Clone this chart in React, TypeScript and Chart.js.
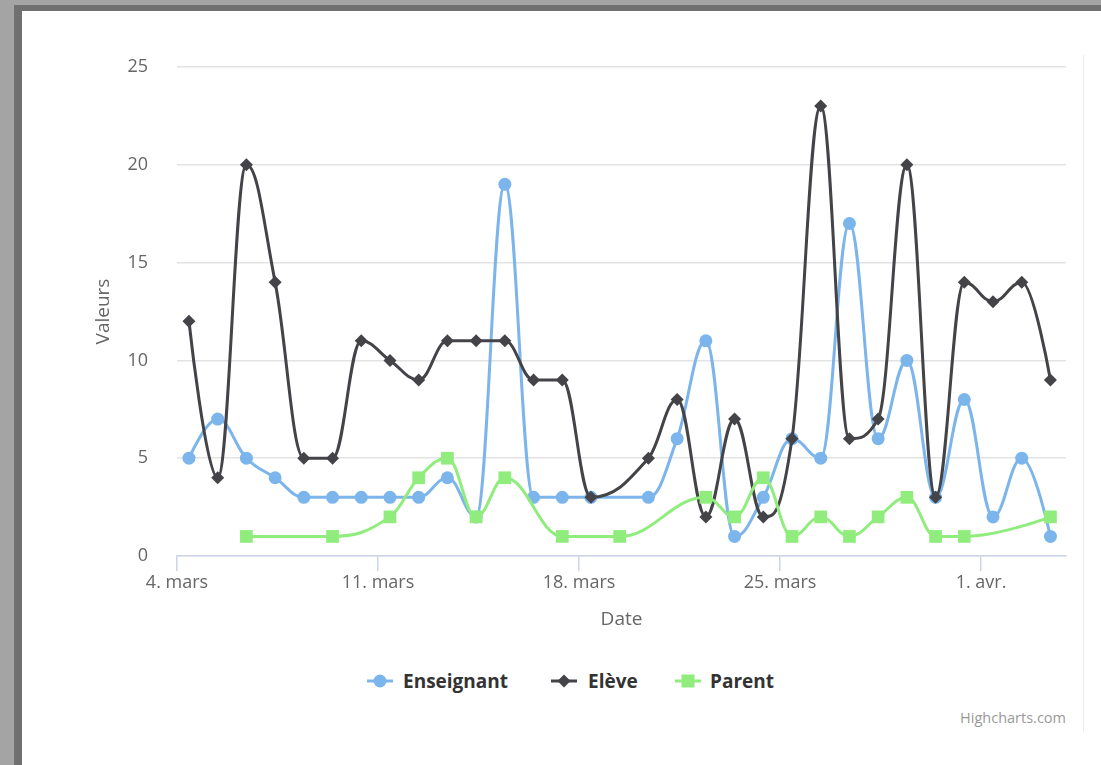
import React, { useEffect, useRef } from 'react';
import { Chart, registerables } from 'chart.js';

Chart.register(...registerables);

// ---------- data ----------
const dates = [
  '2019-03-04', '2019-03-05', '2019-03-06', '2019-03-07', '2019-03-08', '2019-03-09', '2019-03-10',
  '2019-03-11', '2019-03-12', '2019-03-13', '2019-03-14', '2019-03-15', '2019-03-16', '2019-03-17',
  '2019-03-18', '2019-03-19', '2019-03-20', '2019-03-21', '2019-03-22', '2019-03-23', '2019-03-24',
  '2019-03-25', '2019-03-26', '2019-03-27', '2019-03-28', '2019-03-29', '2019-03-30', '2019-03-31',
  '2019-04-01', '2019-04-02', '2019-04-03',
];
const enseignant = [5, 7, 5, 4, 3, 3, 3, 3, 3, 4, 2, 19, 3, 3, 3, null, 3, 6, 11, 1, 3, 6, 5, 17, 6, 10, 3, 8, 2, 5, 1];
const eleve = [12, 4, 20, 14, 5, 5, 11, 10, 9, 11, 11, 11, 9, 9, 3, null, 5, 8, 2, 7, 2, 6, 23, 6, 7, 20, 3, 14, 13, 14, 9];
const parent = [null, null, 1, null, null, 1, null, 2, 4, 5, 2, 4, null, 1, null, 1, null, null, 3, 2, 4, 1, 2, 1, 2, 3, 1, 1, null, null, 2];

const seriesNames = ['Enseignant', 'Elève', 'Parent'];
const seriesColors = ['#7cb5ec', '#434348', '#90ed7d'];

const tickDates = ['2019-03-04', '2019-03-11', '2019-03-18', '2019-03-25', '2019-04-01'];
const tickLabels = ['4. mars', '11. mars', '18. mars', '25. mars', '1. avr.'];
const yTickValues = [0, 5, 10, 15, 20, 25];

const axisStart = '2019-03-04T00:00';
const axisEnd = '2019-04-03T23:00';
const pointTime = 'T10:00';

const xTitle = 'Date';
const yTitle = 'Valeurs';
const creditText = 'Highcharts.com';

// ---------- helpers ----------
function toDays(s: string): number {
  const [d, t = '00:00'] = s.split('T');
  const [y, m, dd] = d.split('-').map(Number);
  const [h, mi] = t.split(':').map(Number);
  return Date.UTC(y, m - 1, dd, h, mi) / 864e5;
}
const origin = toDays(axisStart);
const xOf = (s: string) => toDays(s) - origin;
const tickXs = tickDates.map((d) => xOf(d));

function toPoints(values: (number | null)[]) {
  return dates.map((d, i) => ({ x: xOf(d + pointTime), y: values[i] }));
}

const FONT = "'Open Sans', 'DejaVu Sans', sans-serif";

// Highcharts-like spline control points
const hcSpline = {
  id: 'hcSpline',
  beforeDatasetDraw(chart: any, args: any) {
    const meta = args.meta;
    const line = meta.dataset;
    if (!line) return;
    line.updateControlPoints(chart.chartArea, meta.iScale.axis);
    const pts = meta.data.filter((p: any) => !p.skip);
    const s = 1.5;
    const den = s + 1;
    for (let i = 0; i < pts.length; i++) {
      const p = pts[i];
      if (i === 0 || i === pts.length - 1) {
        p.cp1x = p.x; p.cp1y = p.y; p.cp2x = p.x; p.cp2y = p.y;
        continue;
      }
      const a = pts[i - 1];
      const b = pts[i + 1];
      const lx = (s * p.x + a.x) / den;
      let ly = (s * p.y + a.y) / den;
      const rx = (s * p.x + b.x) / den;
      let ry = (s * p.y + b.y) / den;
      if (rx !== lx) {
        const c = ((ry - ly) * (rx - p.x)) / (rx - lx) + p.y - ry;
        ly += c;
        ry += c;
      }
      if (ly > a.y && ly > p.y) { ly = Math.max(a.y, p.y); ry = 2 * p.y - ly; }
      else if (ly < a.y && ly < p.y) { ly = Math.min(a.y, p.y); ry = 2 * p.y - ly; }
      if (ry > b.y && ry > p.y) { ry = Math.max(b.y, p.y); ly = 2 * p.y - ry; }
      else if (ry < b.y && ry < p.y) { ry = Math.min(b.y, p.y); ly = 2 * p.y - ry; }
      p.cp1x = lx; p.cp1y = ly; p.cp2x = rx; p.cp2y = ry;
    }
  },
};

function LegendSymbol({ kind, color }: { kind: number; color: string }) {
  return (
    <svg width={26} height={16} style={{ display: 'block' }}>
      <line x1={0} y1={8} x2={26} y2={8} stroke={color} strokeWidth={3} />
      {kind === 0 && <circle cx={13} cy={8} r={6.5} fill={color} />}
      {kind === 1 && <polygon points="13,1.5 19.5,8 13,14.5 6.5,8" fill={color} />}
      {kind === 2 && <rect x={6.5} y={1.5} width={13} height={13} fill={color} />}
    </svg>
  );
}

export default function App() {
  const canvasRef = useRef<HTMLCanvasElement | null>(null);

  useEffect(() => {
    if (!canvasRef.current) return;
    const styles = ['circle', 'rectRot', 'rect'];
    const radii = [6.5, 6.5, 9];
    const values = [enseignant, eleve, parent];
    const chart = new Chart(canvasRef.current, {
      type: 'line',
      data: {
        datasets: values.map((v, i) => ({
          label: seriesNames[i],
          data: toPoints(v),
          borderColor: seriesColors[i],
          backgroundColor: seriesColors[i],
          pointBackgroundColor: seriesColors[i],
          pointBorderWidth: 0,
          pointRadius: radii[i],
          pointStyle: styles[i] as any,
          borderWidth: 3,
          tension: 0.4,
          spanGaps: true,
          fill: false,
          order: 2 - i,
        })),
      },
      plugins: [hcSpline],
      options: {
        animation: false,
        responsive: false,
        events: [],
        layout: { padding: { top: 56, right: 35, bottom: 0, left: 0 } },
        plugins: {
          legend: { display: false },
          tooltip: { enabled: false },
        },
        scales: {
          x: {
            type: 'linear',
            min: 0,
            max: xOf(axisEnd),
            afterBuildTicks: (scale: any) => {
              scale.ticks = tickXs.map((v) => ({ value: v }));
            },
            afterFit: (scale: any) => {
              scale.height = 95;
            },
            ticks: {
              autoSkip: false,
              maxRotation: 0,
              padding: 1,
              color: '#666666',
              font: { family: FONT, size: 18 },
              callback: (value: any) => {
                const idx = tickXs.findIndex((t) => Math.abs(t - Number(value)) < 1e-6);
                return idx >= 0 ? tickLabels[idx] : '';
              },
            },
            grid: {
              drawOnChartArea: false,
              drawTicks: true,
              tickLength: 15,
              color: '#ccd6eb',
              lineWidth: 1.5,
            },
            border: { display: true, color: '#ccd6eb', width: 1.5 },
            title: {
              display: true,
              text: xTitle,
              color: '#666666',
              font: { family: FONT, size: 19 },
              padding: { top: 0, bottom: 20 },
            },
          },
          y: {
            type: 'linear',
            min: 0,
            max: 25,
            afterBuildTicks: (scale: any) => {
              scale.ticks = yTickValues.map((v) => ({ value: v }));
            },
            afterFit: (scale: any) => {
              scale.width = 155;
            },
            ticks: {
              padding: 29,
              color: '#666666',
              font: { family: FONT, size: 18 },
            },
            grid: {
              drawTicks: false,
              color: '#e3e3e3',
              lineWidth: 1.5,
            },
            border: { display: false },
            title: {
              display: true,
              text: yTitle,
              color: '#666666',
              font: { family: FONT, size: 19 },
              padding: { top: 70, bottom: 0 },
            },
          },
        },
      } as any,
    });
    return () => chart.destroy();
  }, []);

  const legendPos = [
    { sym: 367, text: 403 },
    { sym: 551, text: 588 },
    { sym: 675, text: 710 },
  ];

  return (
    <div style={{ position: 'absolute', left: 0, top: 0, width: 1101, height: 765, background: '#a4a4a4', overflow: 'hidden' }}>
      <div style={{ position: 'absolute', left: 14, top: 5, right: 0, bottom: 0, background: '#707070' }} />
      <div style={{ position: 'absolute', left: 22, top: 11, right: 0, bottom: 0, background: '#ffffff' }} />
      <div style={{ position: 'absolute', left: 1083, top: 55, width: 1, height: 677, background: '#eeeeee' }} />
      <canvas
        ref={canvasRef}
        width={1079}
        height={640}
        style={{ position: 'absolute', left: 22, top: 11, width: 1079, height: 640 }}
      />
      {seriesNames.map((name, i) => (
        <React.Fragment key={name}>
          <div style={{ position: 'absolute', left: legendPos[i].sym, top: 673 }}>
            <LegendSymbol kind={i} color={seriesColors[i]} />
          </div>
          <div
            style={{
              position: 'absolute',
              left: legendPos[i].text,
              top: 668,
              fontFamily: FONT,
              fontSize: 19,
              fontWeight: 'bold',
              color: '#333333',
              lineHeight: '26px',
              whiteSpace: 'nowrap',
            }}
          >
            {name}
          </div>
        </React.Fragment>
      ))}
      <div
        style={{
          position: 'absolute',
          right: 1101 - 1066,
          top: 708,
          fontFamily: FONT,
          fontSize: 14.5,
          color: '#999999',
          lineHeight: '20px',
          whiteSpace: 'nowrap',
        }}
      >
        {creditText}
      </div>
    </div>
  );
}
